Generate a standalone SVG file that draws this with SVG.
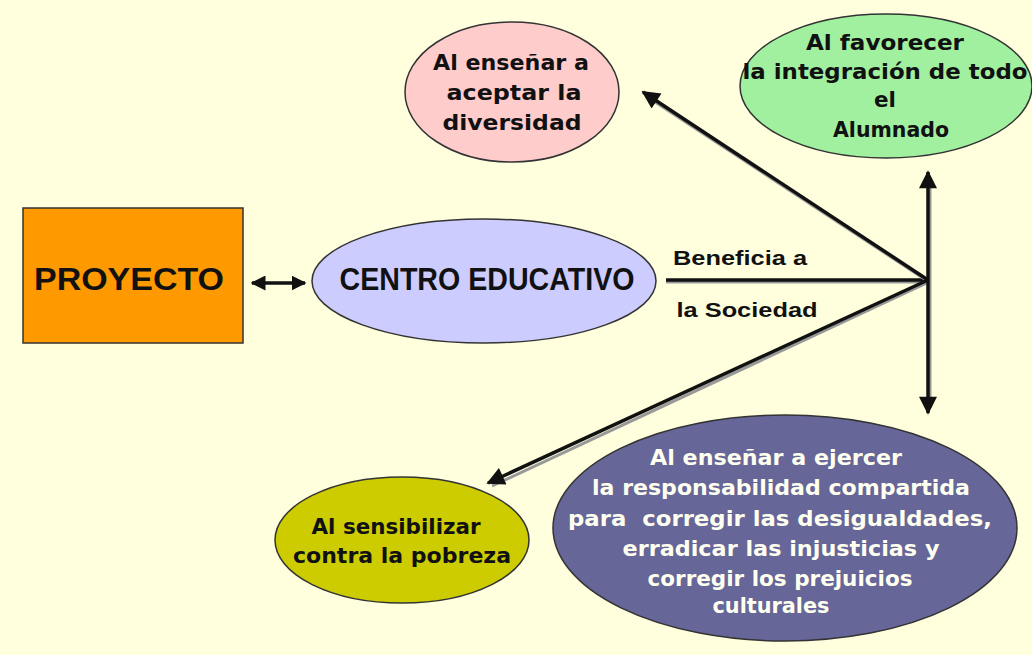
<svg xmlns="http://www.w3.org/2000/svg" width="1032" height="655" viewBox="0 0 1032 655">
<defs>
<style>
.bg{fill:#FFFFDE}
.node{stroke:#333;stroke-width:1.5}
.c{font-family:"DejaVu Sans","Liberation Sans",sans-serif;font-weight:bold;font-size:21px;text-anchor:middle;fill:#111}
.w{fill:#FFFFF0}
.a{font-family:"Liberation Sans",Arial,sans-serif;font-weight:bold;fill:#111;text-anchor:middle}
.ln{stroke:#111;stroke-width:3.5;fill:none}
.sh{stroke:#999;stroke-width:3;fill:none}
</style>
<marker id="ah" viewBox="0 0 10 10" refX="9" refY="5" markerWidth="20" markerHeight="18" markerUnits="userSpaceOnUse" orient="auto-start-reverse">
<path d="M0,0 L10,5 L0,10 z" fill="#111"/>
</marker>
<marker id="ah2" viewBox="0 0 10 10" refX="9" refY="5" markerWidth="15" markerHeight="15" markerUnits="userSpaceOnUse" orient="auto-start-reverse">
<path d="M0,0 L10,5 L0,10 z" fill="#111"/>
</marker>
</defs>
<rect class="bg" x="0" y="0" width="1032" height="655"/>

<g id="connectors">
<line class="sh" x1="666" y1="282" x2="928" y2="282"/>
<line class="ln" x1="666" y1="280" x2="928" y2="280"/>
<line class="sh" x1="929" y1="282" x2="646" y2="96"/>
<line class="ln" x1="928" y1="280" x2="643" y2="92" marker-end="url(#ah)"/>
<line class="sh" x1="929" y1="282" x2="492" y2="486"/>
<line class="ln" x1="928" y1="280" x2="488" y2="483" marker-end="url(#ah)"/>
<line class="sh" x1="930" y1="178" x2="930" y2="408"/>
<line class="ln" x1="928" y1="172" x2="928" y2="413" marker-start="url(#ah)" marker-end="url(#ah)"/>
<line class="ln" x1="252" y1="283" x2="305" y2="283" stroke-width="5" marker-start="url(#ah2)" marker-end="url(#ah2)"/>
</g>

<g id="proyecto">
<rect class="node" x="23" y="208" width="220" height="135" fill="#FF9900"/>
<text class="a" x="129" y="290" font-size="31" textLength="190" lengthAdjust="spacingAndGlyphs">PROYECTO</text>
</g>

<g id="centro">
<ellipse class="node" cx="484" cy="281" rx="172" ry="62" fill="#CCCCFF"/>
<text class="a" x="487" y="290" font-size="32" textLength="295" lengthAdjust="spacingAndGlyphs">CENTRO EDUCATIVO</text>
</g>

<g id="beneficia">
<text class="a" x="740" y="265" font-size="21" textLength="134" lengthAdjust="spacingAndGlyphs">Beneficia a</text>
<text class="a" x="747" y="317" font-size="21" textLength="141" lengthAdjust="spacingAndGlyphs">la Sociedad</text>
</g>

<g id="diversidad">
<ellipse class="node" cx="512" cy="92" rx="107" ry="70" fill="#FFCCCC"/>
<text class="c" x="511" y="70" textLength="156" lengthAdjust="spacingAndGlyphs">Al enseñar a</text>
<text class="c" x="514" y="100" textLength="135" lengthAdjust="spacingAndGlyphs">aceptar la</text>
<text class="c" x="512" y="130" textLength="139" lengthAdjust="spacingAndGlyphs">diversidad</text>
</g>

<g id="alumnado">
<ellipse class="node" cx="886" cy="86" rx="146" ry="72" fill="#A0F0A0"/>
<text class="c" x="885" y="50" textLength="158" lengthAdjust="spacingAndGlyphs">Al favorecer</text>
<text class="c" x="885" y="79" textLength="285" lengthAdjust="spacingAndGlyphs">la integración de todo</text>
<text class="c" x="885" y="107" textLength="22" lengthAdjust="spacingAndGlyphs">el</text>
<text class="c" x="891" y="137" textLength="116" lengthAdjust="spacingAndGlyphs">Alumnado</text>
</g>

<g id="pobreza">
<ellipse class="node" cx="402" cy="540" rx="127" ry="63" fill="#CCCC00"/>
<text class="c" x="396" y="534" textLength="169" lengthAdjust="spacingAndGlyphs">Al sensibilizar</text>
<text class="c" x="402" y="563" textLength="218" lengthAdjust="spacingAndGlyphs">contra la pobreza</text>
</g>

<g id="responsabilidad">
<ellipse class="node" cx="785" cy="528" rx="232" ry="113" fill="#666699"/>
<text class="c w" x="776" y="465" textLength="252" lengthAdjust="spacingAndGlyphs">Al enseñar a ejercer</text>
<text class="c w" x="781" y="495" textLength="378" lengthAdjust="spacingAndGlyphs">la responsabilidad compartida</text>
<text class="c w" x="780" y="526" textLength="424" lengthAdjust="spacingAndGlyphs" xml:space="preserve">para  corregir las desigualdades,</text>
<text class="c w" x="781" y="556" textLength="317" lengthAdjust="spacingAndGlyphs">erradicar las injusticias y</text>
<text class="c w" x="780" y="586" textLength="265" lengthAdjust="spacingAndGlyphs">corregir los prejuicios</text>
<text class="c w" x="771" y="613" textLength="117" lengthAdjust="spacingAndGlyphs">culturales</text>
</g>
</svg>
